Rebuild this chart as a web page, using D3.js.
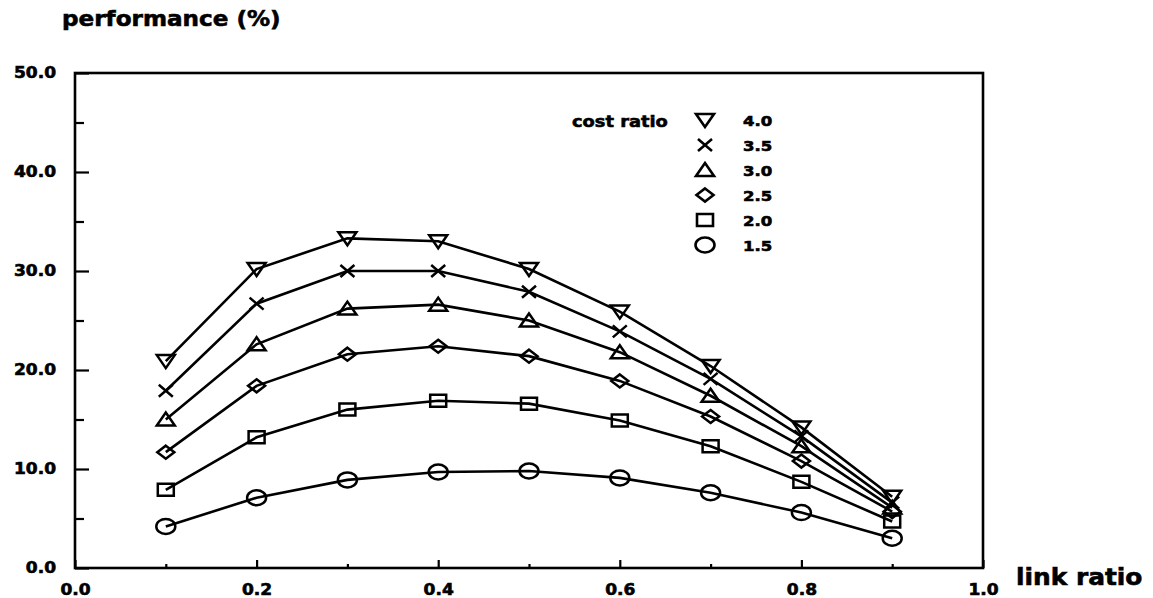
<!DOCTYPE html>
<html lang="en">
<head>
  <meta charset="UTF-8">
  <title>performance vs link ratio</title>
  <style>
    html, body {
      margin: 0;
      padding: 0;
      overflow: hidden;
      background: #fff;
    }
    svg {
      display: block;
      font-family: 'DejaVu Sans', sans-serif;
      font-weight: bold;
    }
    svg text {
      stroke: #000;
      stroke-width: 0.6px;
    }
  </style>
</head>
<body>
<svg></svg>
<script src="https://d3js.org/d3.v7.min.js"></script>
<script>
const W = 1153, H = 598;

// link ratio on the x axis
const linkRatio = [0.1, 0.2, 0.3, 0.4, 0.5, 0.6, 0.7, 0.8, 0.9];

// performance (%) for each cost ratio
const ratio40 = [20.9, 30.2, 33.3, 33.0, 30.2, 25.9, 20.4, 14.2, 7.2];
const ratio35 = [17.9, 26.7, 30.0, 30.0, 27.9, 23.9, 19.1, 13.3, 6.6];
const ratio30 = [15.0, 22.6, 26.2, 26.6, 25.0, 21.8, 17.4, 12.3, 6.1];
const ratio25 = [11.7, 18.4, 21.6, 22.4, 21.4, 18.9, 15.3, 10.8, 5.7];
const ratio20 = [7.9, 13.2, 16.0, 16.9, 16.6, 14.9, 12.3, 8.7, 4.7];
const ratio15 = [4.2, 7.1, 8.9, 9.7, 9.8, 9.1, 7.6, 5.6, 3.0];

const costLabels = ["4.0", "3.5", "3.0", "2.5", "2.0", "1.5"];
const costSymbols = ["triDown", "cross", "triUp", "diamond", "square", "circle"];
const seriesValues = [ratio40, ratio35, ratio30, ratio25, ratio20, ratio15];

const xTicks = [0, 0.2, 0.4, 0.6, 0.8, 1.0];
const yTicks = [0, 10, 20, 30, 40, 50];

const svg = d3.select("svg").attr("width", W).attr("height", H);
svg.append("rect").attr("width", W).attr("height", H).attr("fill", "#fff");

const plotL = 75, plotR = 983, plotT = 73, plotB = 568;
const x = d3.scaleLinear().domain([0, 1]).range([plotL, plotR]);
const y = d3.scaleLinear().domain([0, 50]).range([plotB, plotT]);

// stretch text a bit wider, the original lettering is an extended face
function stretch(sel, k) {
  sel.each(function() {
    const w = this.getComputedTextLength();
    d3.select(this).attr("textLength", w * k).attr("lengthAdjust", "spacingAndGlyphs");
  });
}

// marker shapes (slightly squashed like the scan)
function symbolPath(type) {
  switch (type) {
    case "triDown": return "M-9,-6L9,-6L0,7Z";
    case "triUp": return "M0,-7L9,6L-9,6Z";
    case "cross": return "M-7,-6L7,6M-7,6L7,-6";
    case "diamond": return "M0,-6.5L8.5,0L0,6.5L-8.5,0Z";
    case "square": return "M-8,-6L8,-6L8,6L-8,6Z";
    case "circle": return "M-9.5,0A9.5,7.5 0 1,0 9.5,0A9.5,7.5 0 1,0 -9.5,0Z";
  }
}

function styleLabels(g, k) {
  g.selectAll("text")
    .attr("font-size", 15.5)
    .attr("font-family", "DejaVu Sans")
    .attr("font-weight", "bold")
    .attr("fill", "#000")
    .call(stretch, k);
}

// axes: minor then major ticks, pointing inward
svg.append("g")
  .attr("transform", `translate(0,${plotB})`)
  .call(d3.axisBottom(x).tickValues(d3.range(0.1, 1, 0.2)).tickSize(-4).tickSizeOuter(0).tickFormat(""))
  .call(g => g.select(".domain").remove())
  .selectAll("line").attr("stroke-width", 2.2);

svg.append("g")
  .attr("transform", `translate(0,${plotB})`)
  .call(d3.axisBottom(x).tickValues(xTicks).tickSize(-8).tickSizeOuter(0).tickFormat(d3.format(".1f")).tickPadding(16))
  .call(g => g.select(".domain").remove())
  .call(g => g.selectAll("line").attr("stroke-width", 2.2))
  .call(g => styleLabels(g, 1.1));

svg.append("g")
  .attr("transform", `translate(${plotL},0)`)
  .call(d3.axisLeft(y).tickValues(d3.range(5, 50, 10)).tickSize(-9).tickSizeOuter(0).tickFormat(""))
  .call(g => g.select(".domain").remove())
  .selectAll("line").attr("stroke-width", 2.2);

svg.append("g")
  .attr("transform", `translate(${plotL},0)`)
  .call(d3.axisLeft(y).tickValues(yTicks).tickSize(-14).tickSizeOuter(0).tickFormat(d3.format(".1f")).tickPadding(19))
  .call(g => g.select(".domain").remove())
  .call(g => g.selectAll("line").attr("stroke-width", 2.2))
  .call(g => styleLabels(g, 1.1));

// frame
svg.append("rect")
  .attr("x", plotL).attr("y", plotT)
  .attr("width", plotR - plotL).attr("height", plotB - plotT)
  .attr("fill", "none").attr("stroke", "#000").attr("stroke-width", 2.6);

// series lines and markers
const line = d3.line().x((d, i) => x(linkRatio[i])).y(d => y(d));

seriesValues.forEach((vals, s) => {
  svg.append("path")
    .datum(vals)
    .attr("d", line)
    .attr("fill", "none")
    .attr("stroke", "#000")
    .attr("stroke-width", 2.6);

  svg.selectAll(null)
    .data(vals)
    .enter().append("path")
    .attr("transform", (d, i) => `translate(${x(linkRatio[i])},${y(d)})`)
    .attr("d", symbolPath(costSymbols[s]))
    .attr("fill", "none")
    .attr("stroke", "#000")
    .attr("stroke-width", 2.5);
});

// legend
const legend = svg.append("g");
legend.append("text")
  .attr("x", 572).attr("y", 127)
  .attr("font-size", 16.5)
  .text("cost ratio")
  .call(stretch, 1.08);

costLabels.forEach((lab, i) => {
  const cy = 120 + i * 25;
  legend.append("path")
    .attr("transform", `translate(705,${cy})`)
    .attr("d", symbolPath(costSymbols[i]))
    .attr("fill", "none").attr("stroke", "#000").attr("stroke-width", 2.6);
  legend.append("text")
    .attr("x", 743).attr("y", cy + 6)
    .attr("font-size", 14)
    .text(lab)
    .call(stretch, 1.18);
});

// axis titles
svg.append("text")
  .attr("x", 62).attr("y", 26)
  .attr("font-size", 22)
  .text("performance (%)")
  .call(stretch, 1.05);

svg.append("text")
  .attr("x", 1016).attr("y", 585)
  .attr("font-size", 23)
  .text("link ratio")
  .call(stretch, 1.08);
</script>
</body>
</html>
